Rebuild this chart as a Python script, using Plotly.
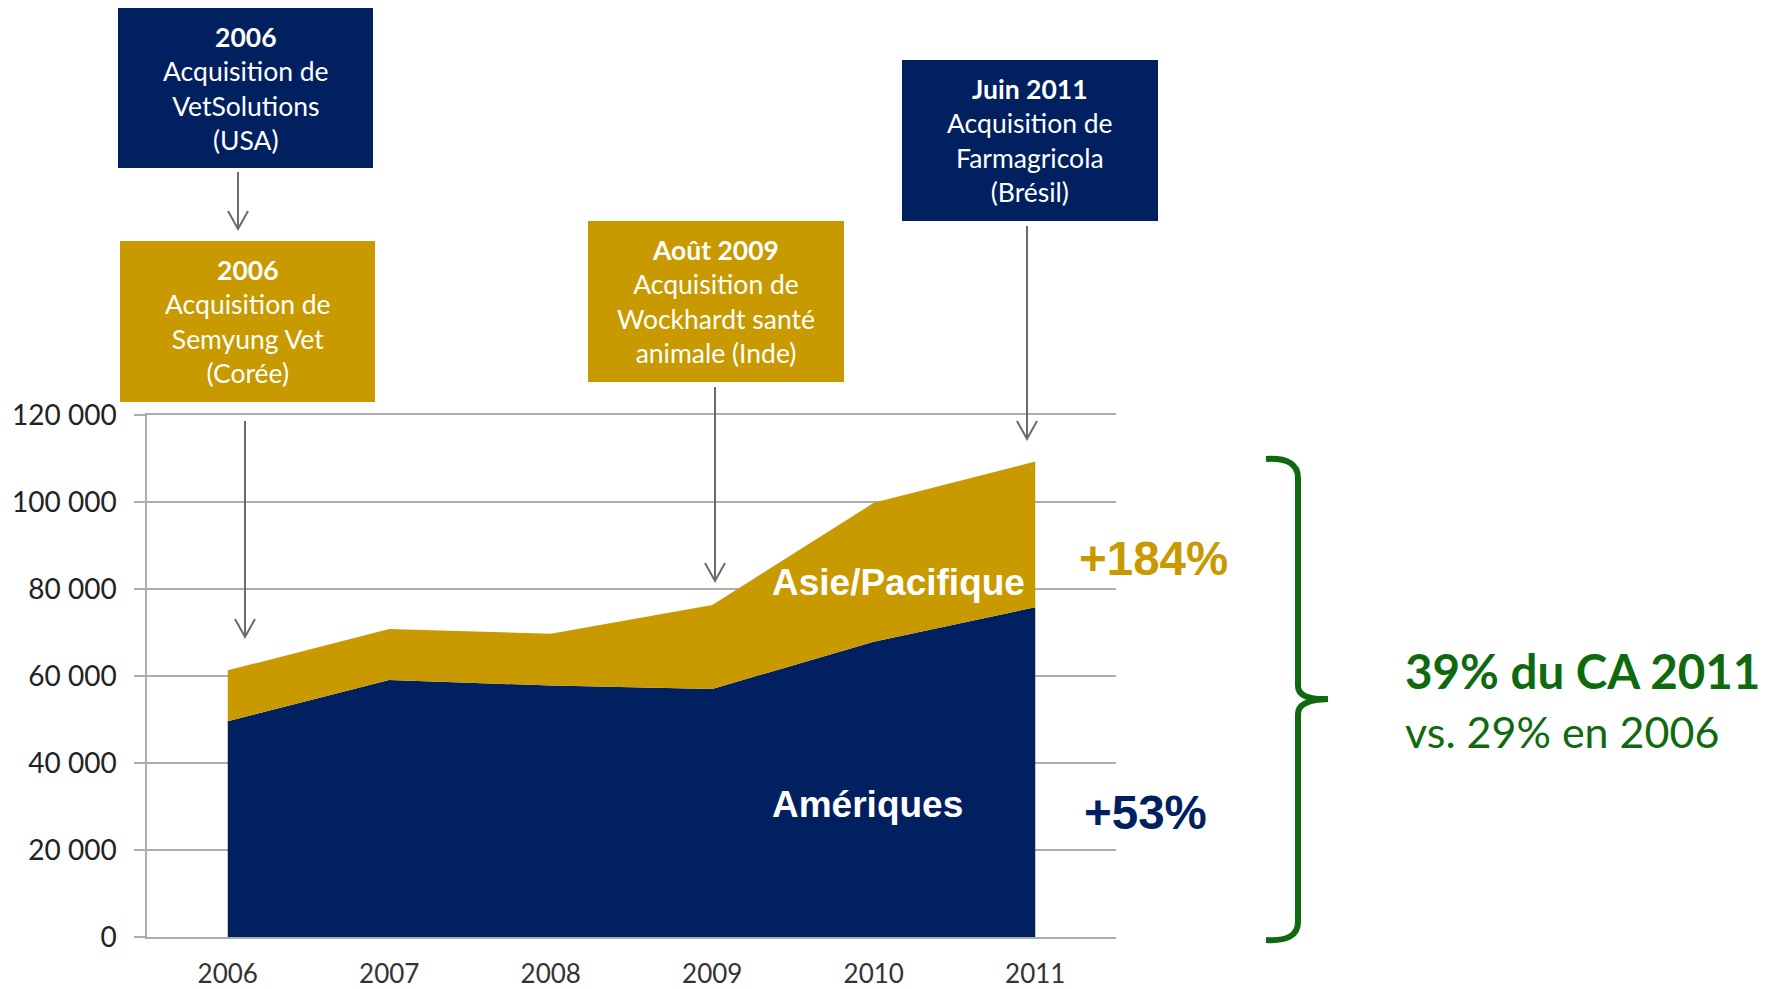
import plotly.graph_objects as go

# ---------------- data ----------------
years = [2006, 2007, 2008, 2009, 2010, 2011]
ameriques = [49600, 59100, 57800, 57000, 67900, 75800]
asie_pacifique = [11700, 11700, 11900, 19300, 31900, 33500]
y_tick_vals = [0, 20000, 40000, 60000, 80000, 100000, 120000]
y_tick_text = ["0", "20 000", "40 000", "60 000", "80 000", "100 000", "120 000"]
x_tick_text = ["2006", "2007", "2008", "2009", "2010", "2011"]

boxes = [
    ("<b>2006</b><br>Acquisition de<br>VetSolutions<br>(USA)", "navy", (118, 8, 373, 168)),
    ("<b>2006</b><br>Acquisition de<br>Semyung Vet<br>(Corée)", "gold", (120, 241, 375, 402)),
    ("<b>Août 2009</b><br>Acquisition de<br>Wockhardt santé<br>animale (Inde)", "gold", (588, 221, 844, 382)),
    ("<b>Juin 2011</b><br>Acquisition de<br>Farmagricola<br>(Brésil)", "navy", (902, 60, 1158, 221)),
]

NAVY = "#002060"
GOLD = "#C89A00"
GREEN = "#0F6A0F"
GRID = "#ADADAD"
ARROW = "#6B6B6B"

OFF = 8  # default page body margin
W, H = 1776 - OFF, 989 - OFF
# plot area in screen pixels
L, R, T, B = 147, 1116, 415, 937


def px(x):
    return (x - L) / (R - L)


def py(y):
    return (B - y) / (B - T)


fig = go.Figure()
fig.add_trace(go.Scatter(
    x=years, y=ameriques, name="Amériques", mode="lines",
    stackgroup="one", line=dict(width=0, color=NAVY), fillcolor=NAVY,
))
fig.add_trace(go.Scatter(
    x=years, y=asie_pacifique, name="Asie/Pacifique", mode="lines",
    stackgroup="one", line=dict(width=0, color=GOLD), fillcolor=GOLD,
))

shapes = []
annotations = []

# acquisition boxes
for text, col, (x0, y0, x1, y1) in boxes:
    c = NAVY if col == "navy" else GOLD
    shapes.append(dict(type="rect", xref="paper", yref="paper",
                       x0=px(x0), x1=px(x1), y0=py(y1), y1=py(y0),
                       fillcolor=c, line=dict(width=0), layer="above"))
    annotations.append(dict(text=text, xref="paper", yref="paper",
                            x=px((x0 + x1) / 2), y=py((y0 + y1) / 2),
                            xanchor="center", yanchor="middle", showarrow=False,
                            font=dict(family="Lato", size=26.5, color="white")))

# arrows (shaft + open head)
arrows = [(238, 172, 229), (245, 421, 637), (715, 387, 581), (1027, 226, 439)]
for x, ya, yb in arrows:
    shapes.append(dict(type="line", xref="paper", yref="paper",
                       x0=px(x), x1=px(x), y0=py(ya), y1=py(yb),
                       line=dict(color=ARROW, width=2), layer="above"))
    shapes.append(dict(type="path", xref="paper", yref="paper",
                       path=f"M {px(x-10)},{py(yb-18)} L {px(x)},{py(yb)} L {px(x+10)},{py(yb-18)}",
                       line=dict(color=ARROW, width=2), layer="above"))

# brace
pts = [
    ("M", 1266, 459), ("Q", 1298, 457), ("", 1298, 478),
    ("L", 1298, 686), ("Q", 1298, 700), ("", 1328, 699),
    ("Q", 1298, 700), ("", 1298, 714),
    ("L", 1298, 922), ("Q", 1298, 942), ("", 1266, 940),
]
path = " ".join(f"{c} {px(x)},{py(y)}" if c else f"{px(x)},{py(y)}" for c, x, y in pts)
shapes.append(dict(type="path", xref="paper", yref="paper", path=path,
                   line=dict(color=GREEN, width=6)))

# labels
def label(text, x, y, size, color, family="Liberation Sans"):
    annotations.append(dict(text=text, xref="paper", yref="paper", x=px(x), y=py(y),
                            xanchor="left", yanchor="middle", showarrow=False,
                            font=dict(family=family, size=size, color=color)))

label("<b>Asie/Pacifique</b>", 770, 582, 37, "white")
label("<b>Amériques</b>", 770, 804, 37, "white")
label("<b>+184%</b>", 1077, 558, 47.5, GOLD)
label("<b>+53%</b>", 1082, 812, 47.5, NAVY)
label("<b>39% du CA 2011</b>", 1403, 670, 47.5, GREEN, "Lato")
label("vs. 29% en 2006", 1403, 731, 43, GREEN, "Lato")

fig.update_layout(
    width=W, height=H,
    margin=dict(l=L - OFF, r=W - (R - OFF), t=T - OFF, b=H - (B - OFF), autoexpand=False),
    paper_bgcolor="white", plot_bgcolor="white",
    showlegend=False,
    font=dict(family="Lato", color="#222222"),
    shapes=shapes, annotations=annotations,
    xaxis=dict(range=[2005.5, 2011.5], tickvals=years, ticktext=x_tick_text,
               showgrid=False, zeroline=False, showline=True, mirror=True,
               linecolor=GRID, linewidth=1.5,
               ticks="", ticklabelstandoff=13,
               tickfont=dict(family="Lato", size=26, color="#333333")),
    yaxis=dict(range=[0, 120000], tickvals=y_tick_vals, ticktext=y_tick_text,
               showgrid=True, gridcolor=GRID, gridwidth=1.5, zeroline=False,
               showline=True, linecolor=GRID, linewidth=1.5,
               ticks="outside", ticklen=11, tickcolor=GRID, tickwidth=1.5,
               ticklabelstandoff=12,
               tickfont=dict(family="Lato", size=28, color="#222222")),
)

fig.write_html("out.html")
